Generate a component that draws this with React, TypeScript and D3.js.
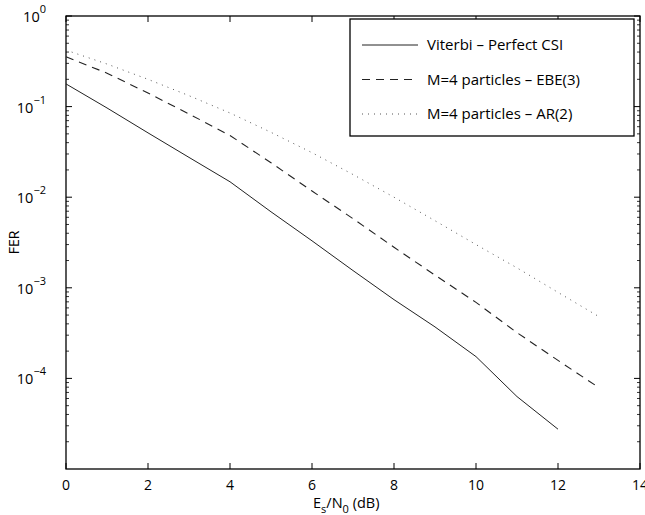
import React, { useEffect, useRef } from "react";
import * as d3 from "d3";

const snr = [0, 1, 2, 3, 4, 5, 6, 7, 8, 9, 10, 11, 12, 13];
const viterbi = [0.178, 0.0966, 0.0513, 0.0275, 0.0148, 0.0069, 0.0033, 0.00155, 0.00074, 0.00037, 0.000174, 0.000063, 0.0000275];
const ebe3 = [0.355, 0.234, 0.141, 0.083, 0.048, 0.024, 0.0117, 0.0058, 0.0028, 0.00138, 0.00069, 0.00032, 0.000158, 0.000079];
const ar2 = [0.42, 0.295, 0.2, 0.132, 0.085, 0.052, 0.031, 0.0178, 0.01, 0.0055, 0.003, 0.00166, 0.00089, 0.00048];
const xTicks = [0, 2, 4, 6, 8, 10, 12, 14];
const yTicks = [1, 0.1, 0.01, 0.001, 0.0001];
const legendLabels = ["Viterbi – Perfect CSI", "M=4 particles – EBE(3)", "M=4 particles – AR(2)"];

const App = () => {
  const ref = useRef<SVGSVGElement>(null);

  useEffect(() => {
    const margin = { top: 16, right: 5, bottom: 46, left: 66 };
    const W = 645, H = 515;
    const width = W - margin.left - margin.right;
    const height = H - margin.top - margin.bottom;
    const font = "'Open Sans', 'DejaVu Sans', sans-serif";

    const root = d3.select(ref.current);
    root.selectAll("*").remove();
    const svg = root.append("g").attr("transform", `translate(${margin.left},${margin.top})`);

    const x = d3.scaleLinear().domain([0, 14]).range([0, width]);
    const y = d3.scaleLog().domain([1e-5, 1]).range([height, 0]);

    // log minor ticks, both sides
    const minor: number[] = [];
    for (let e = -5; e < 0; e++) {
      for (let m = 2; m <= 9; m++) minor.push(m * Math.pow(10, e));
    }
    minor.forEach((v) => {
      svg.append("line").attr("x1", 0).attr("x2", 3).attr("y1", y(v)).attr("y2", y(v)).attr("stroke", "#000").attr("stroke-width", 0.8);
      svg.append("line").attr("x1", width).attr("x2", width - 3).attr("y1", y(v)).attr("y2", y(v)).attr("stroke", "#000").attr("stroke-width", 0.8);
    });
    yTicks.forEach((v) => {
      svg.append("line").attr("x1", 0).attr("x2", 6).attr("y1", y(v)).attr("y2", y(v)).attr("stroke", "#000");
      svg.append("line").attr("x1", width).attr("x2", width - 6).attr("y1", y(v)).attr("y2", y(v)).attr("stroke", "#000");
      const t = svg.append("text").attr("x", -20).attr("y", y(v) + 6).attr("text-anchor", "end")
        .style("font-family", font).style("font-size", "14.5px");
      t.append("tspan").text("10");
      const exp = Math.round(Math.log10(v));
      t.append("tspan").attr("dy", -9).style("font-size", "11px").text(exp === 0 ? "0" : "−" + (-exp));
    });
    xTicks.forEach((v) => {
      svg.append("line").attr("x1", x(v)).attr("x2", x(v)).attr("y1", height).attr("y2", height - 6).attr("stroke", "#000");
      svg.append("line").attr("x1", x(v)).attr("x2", x(v)).attr("y1", 0).attr("y2", 6).attr("stroke", "#000");
      svg.append("text").attr("x", x(v)).attr("y", height + 21).attr("text-anchor", "middle")
        .style("font-family", font).style("font-size", "14px").text(v);
    });

    svg.append("rect").attr("width", width).attr("height", height).attr("fill", "none").attr("stroke", "#000").attr("stroke-width", 1.3);

    const series = [
      { data: viterbi, dash: null as string | null, width: 1, color: "#222" },
      { data: ebe3, dash: "8,6", width: 1.1, color: "#222" },
      { data: ar2, dash: "1,5", width: 1, color: "#555" },
    ];
    const line = d3.line<number>().x((d, i) => x(snr[i])).y((d) => y(d));
    series.forEach((s) => {
      const p = svg.append("path").datum(s.data).attr("fill", "none").attr("stroke", s.color)
        .attr("stroke-width", s.width).attr("d", line);
      if (s.dash) p.attr("stroke-dasharray", s.dash);
    });

    // legend
    const lg = svg.append("g").attr("transform", `translate(${350 - margin.left},${19 - margin.top})`);
    lg.append("rect").attr("width", 284).attr("height", 117).attr("fill", "#fff").attr("stroke", "#000").attr("stroke-width", 1.3);
    series.forEach((s, i) => {
      const ly = 26 + i * 34.5;
      const l = lg.append("line").attr("x1", 12).attr("x2", 68).attr("y1", ly).attr("y2", ly)
        .attr("stroke", s.color).attr("stroke-width", s.width);
      if (s.dash) l.attr("stroke-dasharray", s.dash);
      lg.append("text").attr("x", 77).attr("y", ly + 5).style("font-family", font).style("font-size", "15px").text(legendLabels[i]);
    });

    // axis labels
    const xl = svg.append("text").attr("x", 313 - margin.left).attr("y", height + 39)
      .style("font-family", font).style("font-size", "14.5px");
    xl.append("tspan").text("E");
    xl.append("tspan").attr("dy", 5).style("font-size", "11px").text("s");
    xl.append("tspan").attr("dy", -5).text("/N");
    xl.append("tspan").attr("dy", 5).style("font-size", "11px").text("0");
    xl.append("tspan").attr("dy", -5).text(" (dB)");

    svg.append("text").attr("transform", `translate(${-47},${height / 2}) rotate(-90)`).attr("text-anchor", "middle")
      .style("font-family", font).style("font-size", "14px").text("FER");
  }, []);

  return <svg ref={ref} width={645} height={515} style={{ position: "absolute", left: 0, top: 0, background: "#fff" }} />;
};

export default App;
